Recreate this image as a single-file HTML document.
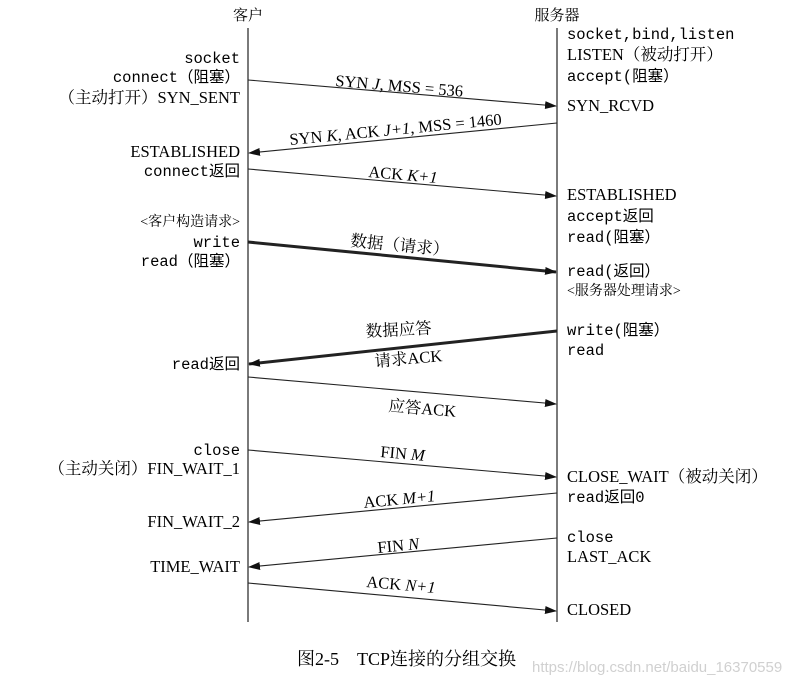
<!DOCTYPE html>
<html><head><meta charset="utf-8"><style>
body{margin:0;background:#fff;}
svg{display:block}
.m{font-family:"Liberation Mono","Noto Sans CJK SC",monospace;font-size:15.5px;fill:#000}
.s{font-family:"Liberation Serif","Noto Serif CJK SC",serif;font-size:16.5px;fill:#000}
.c{font-family:"Liberation Serif","Noto Serif CJK SC",serif;font-size:15px;fill:#000}
.i{font-style:italic}
</style></head><body>
<svg width="805" height="684" viewBox="0 0 805 684" xmlns="http://www.w3.org/2000/svg">
<defs>
<marker id="a" markerWidth="12" markerHeight="8" refX="11" refY="4" orient="auto" markerUnits="userSpaceOnUse"><path d="M0,0 L12,4 L0,8 Z" fill="#111"/></marker>
</defs>
<line x1="248" y1="28" x2="248" y2="622" stroke="#333" stroke-width="1.3"/>
<line x1="557" y1="28" x2="557" y2="622" stroke="#333" stroke-width="1.3"/>
<text x="248" y="20" text-anchor="middle" class="c">客户</text>
<text x="557" y="20" text-anchor="middle" class="c">服务器</text>

<g stroke="#222" stroke-width="1.1" fill="none">
<line x1="248" y1="80" x2="556" y2="106" marker-end="url(#a)"/>
<line x1="557" y1="123" x2="249" y2="153" marker-end="url(#a)"/>
<line x1="248" y1="169" x2="556" y2="196" marker-end="url(#a)"/>
<line x1="248" y1="242" x2="556" y2="272" stroke-width="3" marker-end="url(#a)"/>
<line x1="557" y1="331" x2="249" y2="364" stroke-width="3" marker-end="url(#a)"/>
<line x1="248" y1="377" x2="556" y2="404" marker-end="url(#a)"/>
<line x1="248" y1="450" x2="556" y2="477" marker-end="url(#a)"/>
<line x1="557" y1="493" x2="249" y2="522" marker-end="url(#a)"/>
<line x1="557" y1="538" x2="249" y2="567" marker-end="url(#a)"/>
<line x1="248" y1="583" x2="556" y2="611" marker-end="url(#a)"/>
</g>

<text class="s" transform="translate(335,86) rotate(4.8)">SYN <tspan class="i">J</tspan>, MSS = 536</text>
<text class="s" transform="translate(290,145) rotate(-5.5)">SYN <tspan class="i">K</tspan>, ACK <tspan class="i">J+1</tspan>, MSS = 1460</text>
<text class="s" transform="translate(368,177) rotate(5)">ACK <tspan class="i">K+1</tspan></text>
<text class="s" transform="translate(350,246) rotate(5.5)">数据（请求）</text>
<text class="s" transform="translate(366,337) rotate(-3)">数据应答</text>
<text class="s" transform="translate(375,367) rotate(-5)">请求ACK</text>
<text class="s" transform="translate(388,411) rotate(5)">应答ACK</text>
<text class="s" transform="translate(380,457) rotate(5)">FIN <tspan class="i">M</tspan></text>
<text class="s" transform="translate(364,508) rotate(-5.5)">ACK <tspan class="i">M+1</tspan></text>
<text class="s" transform="translate(378,553) rotate(-5.5)">FIN <tspan class="i">N</tspan></text>
<text class="s" transform="translate(366,587) rotate(5)">ACK <tspan class="i">N+1</tspan></text>

<g text-anchor="end">
<text x="240" y="63" class="m">socket</text>
<text x="240" y="82" class="m">connect（阻塞）</text>
<text x="240" y="103" class="s">（主动打开）SYN_SENT</text>
<text x="240" y="157" class="s">ESTABLISHED</text>
<text x="240" y="176" class="m">connect返回</text>
<text x="240" y="226" class="c" style="font-size:14px">&lt;客户构造请求&gt;</text>
<text x="240" y="247" class="m">write</text>
<text x="240" y="266" class="m">read（阻塞）</text>
<text x="240" y="369" class="m">read返回</text>
<text x="240" y="455" class="m">close</text>
<text x="240" y="474" class="s">（主动关闭）FIN_WAIT_1</text>
<text x="240" y="527" class="s">FIN_WAIT_2</text>
<text x="240" y="572" class="s">TIME_WAIT</text>
</g>
<g>
<text x="567" y="39" class="m">socket,bind,listen</text>
<text x="567" y="60" class="s">LISTEN（被动打开）</text>
<text x="567" y="81" class="m">accept(阻塞）</text>
<text x="567" y="111" class="s">SYN_RCVD</text>
<text x="567" y="200" class="s">ESTABLISHED</text>
<text x="567" y="221" class="m">accept返回</text>
<text x="567" y="242" class="m">read(阻塞）</text>
<text x="567" y="276" class="m">read(返回）</text>
<text x="567" y="295" class="c" style="font-size:14px">&lt;服务器处理请求&gt;</text>
<text x="567" y="335" class="m">write(阻塞）</text>
<text x="567" y="355" class="m">read</text>
<text x="567" y="482" class="s">CLOSE_WAIT（被动关闭）</text>
<text x="567" y="502" class="m">read返回0</text>
<text x="567" y="542" class="m">close</text>
<text x="567" y="562" class="s">LAST_ACK</text>
<text x="567" y="615" class="s">CLOSED</text>
</g>
<text x="297" y="665" class="s" style="font-size:18px">图2-5&#160;&#160;&#160;&#160;TCP连接的分组交换</text>
<text x="532" y="672" style="font-family:'Liberation Sans',sans-serif;font-size:15px;fill:#d0d0d0">https://blog.csdn.net/baidu_16370559</text>
</svg>
</body></html>
